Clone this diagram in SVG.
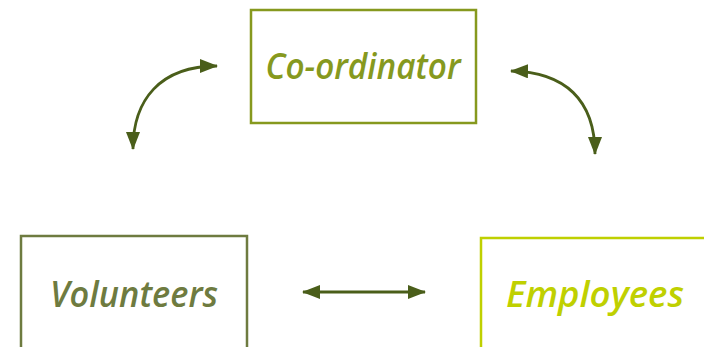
<svg xmlns="http://www.w3.org/2000/svg" width="704" height="347" viewBox="0 0 704 347">
<style>
.box{fill:none;stroke-width:2.5;stroke-linecap:round}
.lbl{font-family:"Open Sans","DejaVu Sans",sans-serif;font-style:italic;font-weight:600;font-size:36px;text-anchor:middle}
.conn{fill:none;stroke:#4a5e1a;stroke-width:2.8}
</style>
<defs>
<marker id="ah" viewBox="0 0 18 14" refX="17" refY="7" markerWidth="18" markerHeight="14" markerUnits="userSpaceOnUse" orient="auto-start-reverse">
<path d="M0,0 L18,7 L0,14 Z" fill="#4a5e1a"/>
</marker>
</defs>
<g id="coordinator">
<rect class="box" x="251" y="10" width="225" height="113" stroke="#86991e"/>
<text class="lbl" x="363" y="79" fill="#86991e" textLength="195" lengthAdjust="spacingAndGlyphs">Co-ordinator</text>
</g>
<g id="volunteers">
<path class="box" d="M21,349 L21,236 L247,236 L247,349" stroke="#6e7b40"/>
<text class="lbl" x="134" y="307" fill="#6e7b40" textLength="168" lengthAdjust="spacingAndGlyphs">Volunteers</text>
</g>
<g id="employees">
<path class="box" d="M481,349 L481,238 L706,238" stroke="#bfd000"/>
<text class="lbl" x="595" y="307" fill="#bfd000" textLength="178" lengthAdjust="spacingAndGlyphs">Employees</text>
</g>
<g id="connectors">
<path class="conn" d="M133,149 C133,100 160,66 217,66" marker-start="url(#ah)" marker-end="url(#ah)"/>
<path class="conn" d="M511,71 C565,72 595,100 595,154" marker-start="url(#ah)" marker-end="url(#ah)"/>
<path class="conn" d="M303,292 L425,292" marker-start="url(#ah)" marker-end="url(#ah)"/>
</g>
</svg>
